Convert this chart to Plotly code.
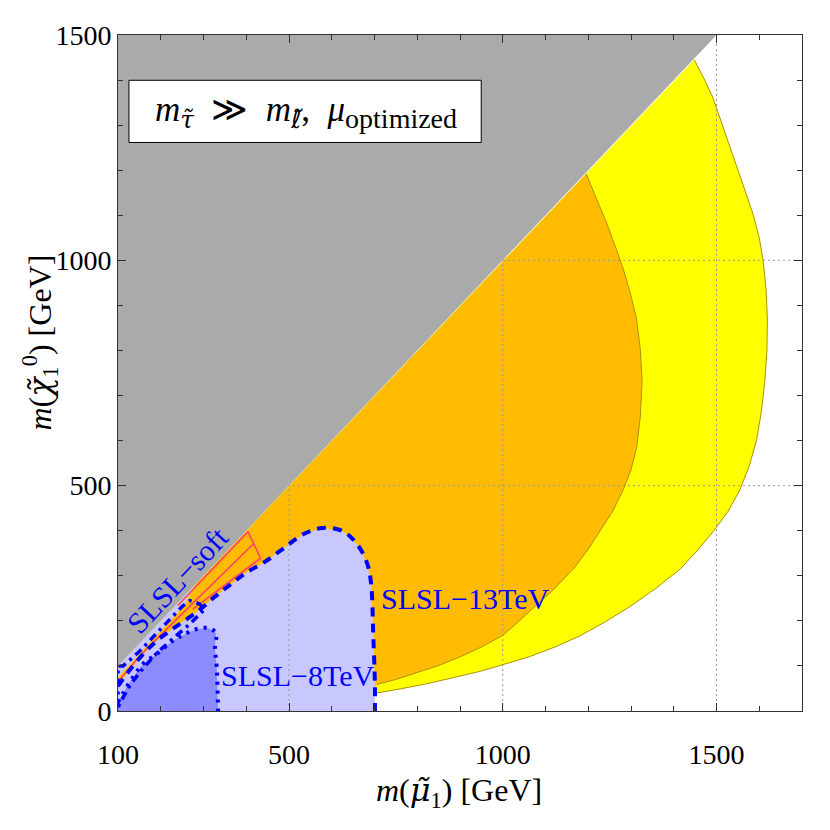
import plotly.graph_objects as go

# axis ticks
x_ticks = [100, 500, 1000, 1500]
y_ticks = [0, 500, 1000, 1500]

# kinematically forbidden corner (m_chi > m_mu)
gray_x = [100, 1500, 100]
gray_y = [100, 1500, 1500]

# outer (yellow) and inner (orange) exclusion arcs
yellow_arc_x = [1448, 1470, 1492, 1515, 1539, 1563, 1586, 1600, 1609, 1616, 1619, 1618, 1613, 1605, 1594,
                1577, 1555, 1527, 1492, 1455, 1415, 1358, 1298, 1240, 1181, 1122, 1064, 1001, 947, 880,
                820, 760, 706]
yellow_arc_y = [1445, 1405, 1360, 1295, 1231, 1165, 1101, 1050, 1000, 935, 870, 800, 731, 665, 602,
                545, 491, 443, 398, 356, 315, 272, 232, 198, 167, 142, 121, 103, 88, 73,
                60, 49, 40]
orange_arc_x = [1195, 1220, 1243, 1263, 1282, 1299, 1313, 1322, 1326, 1322, 1313, 1300, 1282, 1257, 1227,
                1197, 1165, 1115, 1064, 1030, 1001, 950, 900, 850, 800, 750, 706]
orange_arc_y = [1192, 1135, 1083, 1032, 981, 925, 870, 800, 731, 655, 583, 535, 491, 443, 398,
                355, 315, 266, 222, 192, 168, 142, 120, 101, 85, 70, 59]

# orange strip edge along the diagonal at low mass
strip_x = [100, 255, 278]
strip_y = [75, 235, 278]

# SLSL-13TeV contour
c13_x = [100, 108, 125, 151, 191, 238, 285, 322, 362, 402, 445, 486, 533, 577, 626, 661, 683, 692, 697, 701, 701]
c13_y = [55, 66, 88, 118, 156, 189, 220, 250, 280, 308, 332, 360, 392, 406, 399, 368, 327, 283, 171, 57, 0]

# SLSL-8TeV contour
c8_x = [100, 112, 135, 159, 191, 229, 261, 285, 311, 329, 327, 331, 334]
c8_y = [20, 40, 75, 105, 127, 156, 173, 182, 184, 173, 140, 97, 0]

# SLSL-soft contour
soft_x = [100, 100, 112, 150, 200, 250, 268, 290, 303, 268, 217, 191, 158, 130, 112, 100]
soft_y = [8, 100, 100, 132, 182, 232, 245, 238, 226, 193, 151, 129, 94, 60, 30, 8]

# red hatched strip
red_up_x = [240, 404]
red_up_y = [234, 398]
red_mid_x = [100, 151, 191, 245, 417]
red_mid_y = [65, 122, 160, 211, 371]
red_low_x = [275, 432]
red_low_y = [226, 338]
red_end_x = [404, 408, 412, 417, 422, 428, 432, 432]
red_end_y = [398, 390, 383, 371, 362, 350, 342, 334]

FONT = "Liberation Serif"
DV = '<span style="font-family:DejaVu Serif">'
DVS = '<span style="font-family:DejaVu Sans">'
BLUE = "#0000ff"
EDGE = "#b0900a"

fig = go.Figure()

# yellow region
fig.add_trace(go.Scatter(
    x=[100, 100] + yellow_arc_x + [690, 100],
    y=[20, 100] + yellow_arc_y + [20, 20],
    fill="toself", fillcolor="#ffff00", mode="none", hoverinfo="skip"))

# orange region
fig.add_trace(go.Scatter(
    x=[100] + strip_x + orange_arc_x + [690, 100],
    y=[40] + strip_y + orange_arc_y + [40, 40],
    fill="toself", fillcolor="#ffbb00", mode="none", hoverinfo="skip"))

# thin light blue band between orange strip and diagonal
fig.add_trace(go.Scatter(
    x=[100, 100, strip_x[2], strip_x[1]],
    y=[strip_y[0], 100, strip_y[2], strip_y[1]],
    fill="toself", fillcolor="#c8c8ff", mode="none", hoverinfo="skip"))

# red strip lines
for rx, ry in [(red_up_x, red_up_y), (red_mid_x, red_mid_y), (red_low_x, red_low_y), (red_end_x, red_end_y)]:
    fig.add_trace(go.Scatter(x=rx, y=ry, mode="lines", line=dict(color="#ff4466", width=1.6), hoverinfo="skip"))

# 13 TeV region
fig.add_trace(go.Scatter(
    x=[100] + c13_x, y=[0] + c13_y,
    fill="toself", fillcolor="#c8c8ff", mode="none", hoverinfo="skip"))

# 8 TeV region
fig.add_trace(go.Scatter(
    x=[100] + c8_x, y=[0] + c8_y,
    fill="toself", fillcolor="#8c8cff", mode="none", hoverinfo="skip"))

# contour outlines
fig.add_trace(go.Scatter(x=c13_x, y=c13_y, mode="lines", line_shape="spline",
                         line=dict(color=BLUE, width=4, dash="9px,7px"), hoverinfo="skip"))
fig.add_trace(go.Scatter(x=c8_x, y=c8_y, mode="lines", line_shape="spline",
                         line=dict(color=BLUE, width=4, dash="3px,6px"), hoverinfo="skip"))
fig.add_trace(go.Scatter(x=soft_x, y=soft_y, mode="lines",
                         line=dict(color=BLUE, width=3.5, dash="8px,5px,3px,5px"), hoverinfo="skip"))

# dotted grid (drawn over the coloured regions, under the gray triangle)
for gx in x_ticks[1:]:
    fig.add_trace(go.Scatter(x=[gx, gx], y=[y_ticks[0], y_ticks[-1]], mode="lines",
                             line=dict(color="#999999", width=1, dash="2px,3px"), hoverinfo="skip"))
for gy in y_ticks[1:-1]:
    fig.add_trace(go.Scatter(x=[100, 1700], y=[gy, gy], mode="lines",
                             line=dict(color="#999999", width=1, dash="2px,3px"), hoverinfo="skip"))

# arc edges
fig.add_trace(go.Scatter(x=yellow_arc_x, y=yellow_arc_y, mode="lines",
                         line=dict(color=EDGE, width=1), hoverinfo="skip"))
fig.add_trace(go.Scatter(x=orange_arc_x, y=orange_arc_y, mode="lines",
                         line=dict(color=EDGE, width=1), hoverinfo="skip"))

# gray triangle
fig.add_trace(go.Scatter(x=gray_x, y=gray_y, fill="toself", fillcolor="#aaaaaa",
                         mode="none", hoverinfo="skip"))

# labels
lab = dict(font=dict(family=FONT, size=30, color=BLUE), showarrow=False,
           xanchor="center", yanchor="middle")
fig.add_annotation(x=912, y=250, text="SLSL\u221213TeV", **lab)
fig.add_annotation(x=519, y=79, text="SLSL\u22128TeV", **lab)
fig.add_annotation(x=240, y=292, text="SLSL\u2212soft", textangle=-47, **lab)

# legend box
fig.add_shape(type="rect", xref="paper", yref="paper", x0=0.016, x1=0.531, y0=0.841, y1=0.933,
              fillcolor="white", line=dict(color="black", width=1), layer="above")
fig.add_annotation(xref="paper", yref="paper", x=0.275, y=0.886, showarrow=False,
                   xanchor="center", yanchor="middle",
                   text="<i>m</i><sub>" + DV + "<i>\u03c4\u0303</i></span></sub>  \u226b  "
                        "<i>m</i><sub>" + DVS + "<i>\u2113\u0303</i></span></sub>,  "
                        "<i>\u03bc</i><sub><span style=\"font-size:28px\">optimized</span></sub>",
                   font=dict(family=FONT, size=35, color="black"))

# axis titles
fig.add_annotation(xref="paper", yref="paper", x=0.499, y=-0.12, showarrow=False,
                   xanchor="center", yanchor="middle",
                   text="<i>m</i>(" + DV + "<i>\u03bc\u0303</i></span><sub>1</sub>) [GeV]",
                   font=dict(family=FONT, size=32, color="black"))
fig.add_annotation(xref="paper", yref="paper", x=-0.114, y=0.545, showarrow=False,
                   xanchor="center", yanchor="middle", textangle=-90,
                   text="<i>m</i>(" + DV + "<i>\u03c7\u0303</i></span><sub>1</sub><sup>0</sup>) [GeV]",
                   font=dict(family=FONT, size=32, color="black"))

axis = dict(showgrid=False, zeroline=False, showline=True, linecolor="#333333", linewidth=1,
            mirror="ticks", ticks="inside", ticklen=8, tickcolor="#333333",
            tickfont=dict(family=FONT, size=28, color="black"))

# page body adds an 8px margin, so the figure is 814 wide to fit the 830 window
fig.update_layout(
    width=814, height=814,
    margin=dict(l=110, r=20, t=19, b=111),
    plot_bgcolor="white", paper_bgcolor="white",
    showlegend=False,
    xaxis=dict(range=[100, 1700], tickvals=x_ticks, ticklabelstandoff=18,
               minor=dict(ticks="inside", ticklen=5, dtick=100, tick0=0, tickcolor="#333333"),
               **axis),
    yaxis=dict(range=[0, 1500], tickvals=y_ticks,
               minor=dict(ticks="inside", ticklen=5, dtick=100, tick0=0, tickcolor="#333333"),
               **axis),
)

fig.write_html("out.html")
